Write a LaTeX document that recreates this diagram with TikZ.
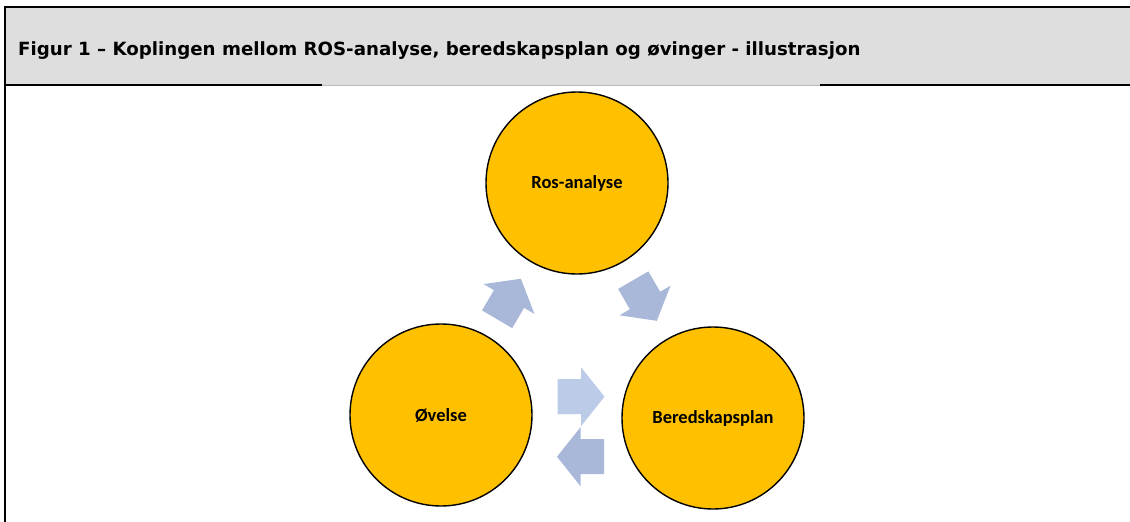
\documentclass[tikz,border=0pt]{standalone}
\usepackage{fontspec}
\setmainfont{DejaVu Sans}
\newfontfamily\calib{Carlito}
\definecolor{headgray}{HTML}{DEDEDE}
\definecolor{gold}{HTML}{FFC000}
\definecolor{arrblue}{HTML}{A9B8D8}
\definecolor{arrlight}{HTML}{BCCBE7}
\definecolor{seamgray}{HTML}{BBBBBB}
\tikzset{
  circ/.style={circle, draw=black, line width=1.4pt, fill=gold, minimum size=182pt, inner sep=0pt,
    font=\calib\bfseries\fontsize{18.5}{20}\selectfont},
  frame/.style={line width=2.2pt, black},
  pics/blockarrow/.style={code={
    \fill[#1] (-23.5,-17.5) -- (0,-17.5) -- (0,-29.5) -- (23.5,0) -- (0,29.5) -- (0,17.5) -- (-23.5,17.5) -- cycle;
  }}
}
\begin{document}
\begin{tikzpicture}[x=1pt,y=-1pt]
\useasboundingbox (0,0) rectangle (1130,522);
% header band
\fill[headgray] (5,7) rectangle (1130,85);
\draw[frame] (3.9,7.3) -- (1130,7.3);
\draw[frame] (5,7) -- (5,522);
\draw[frame] (4,85) coordinate (hl1) -- (322,85) coordinate (hl2);
\draw[frame] (820,85) coordinate (hr1) -- (1130,85) coordinate (hr2);
\draw[seamgray, line width=1pt] (hl2) -- (hr1);
\node[anchor=base west, inner sep=0pt, font=\bfseries\fontsize{18.2}{21}\selectfont] (title) at (18,55)
  {Figur 1 – Koplingen mellom ROS-analyse, beredskapsplan og øvinger - illustrasjon};
% circles
\node[circ] (ros) at (577,183) {Ros-analyse};
\node[circ] (ov) at (441,415) {Øvelse};
\node[circ] (ber) at (713,418) {Beredskapsplan};
% block arrows between circles
\path (ov) -- (ros) coordinate[pos=0.5] (m1);
\path (ros) -- (ber) coordinate[pos=0.5] (m2);
\pic[rotate=59.6] at (m1) {blockarrow=arrblue};
\pic[rotate=-59.9] at (m2) {blockarrow=arrblue};
\coordinate (m3) at (581,396.7);
\coordinate (m4) at (580.5,456.7);
\pic at (m3) {blockarrow=arrlight};
\pic[rotate=180] at (m4) {blockarrow=arrblue};
\end{tikzpicture}
\end{document}
